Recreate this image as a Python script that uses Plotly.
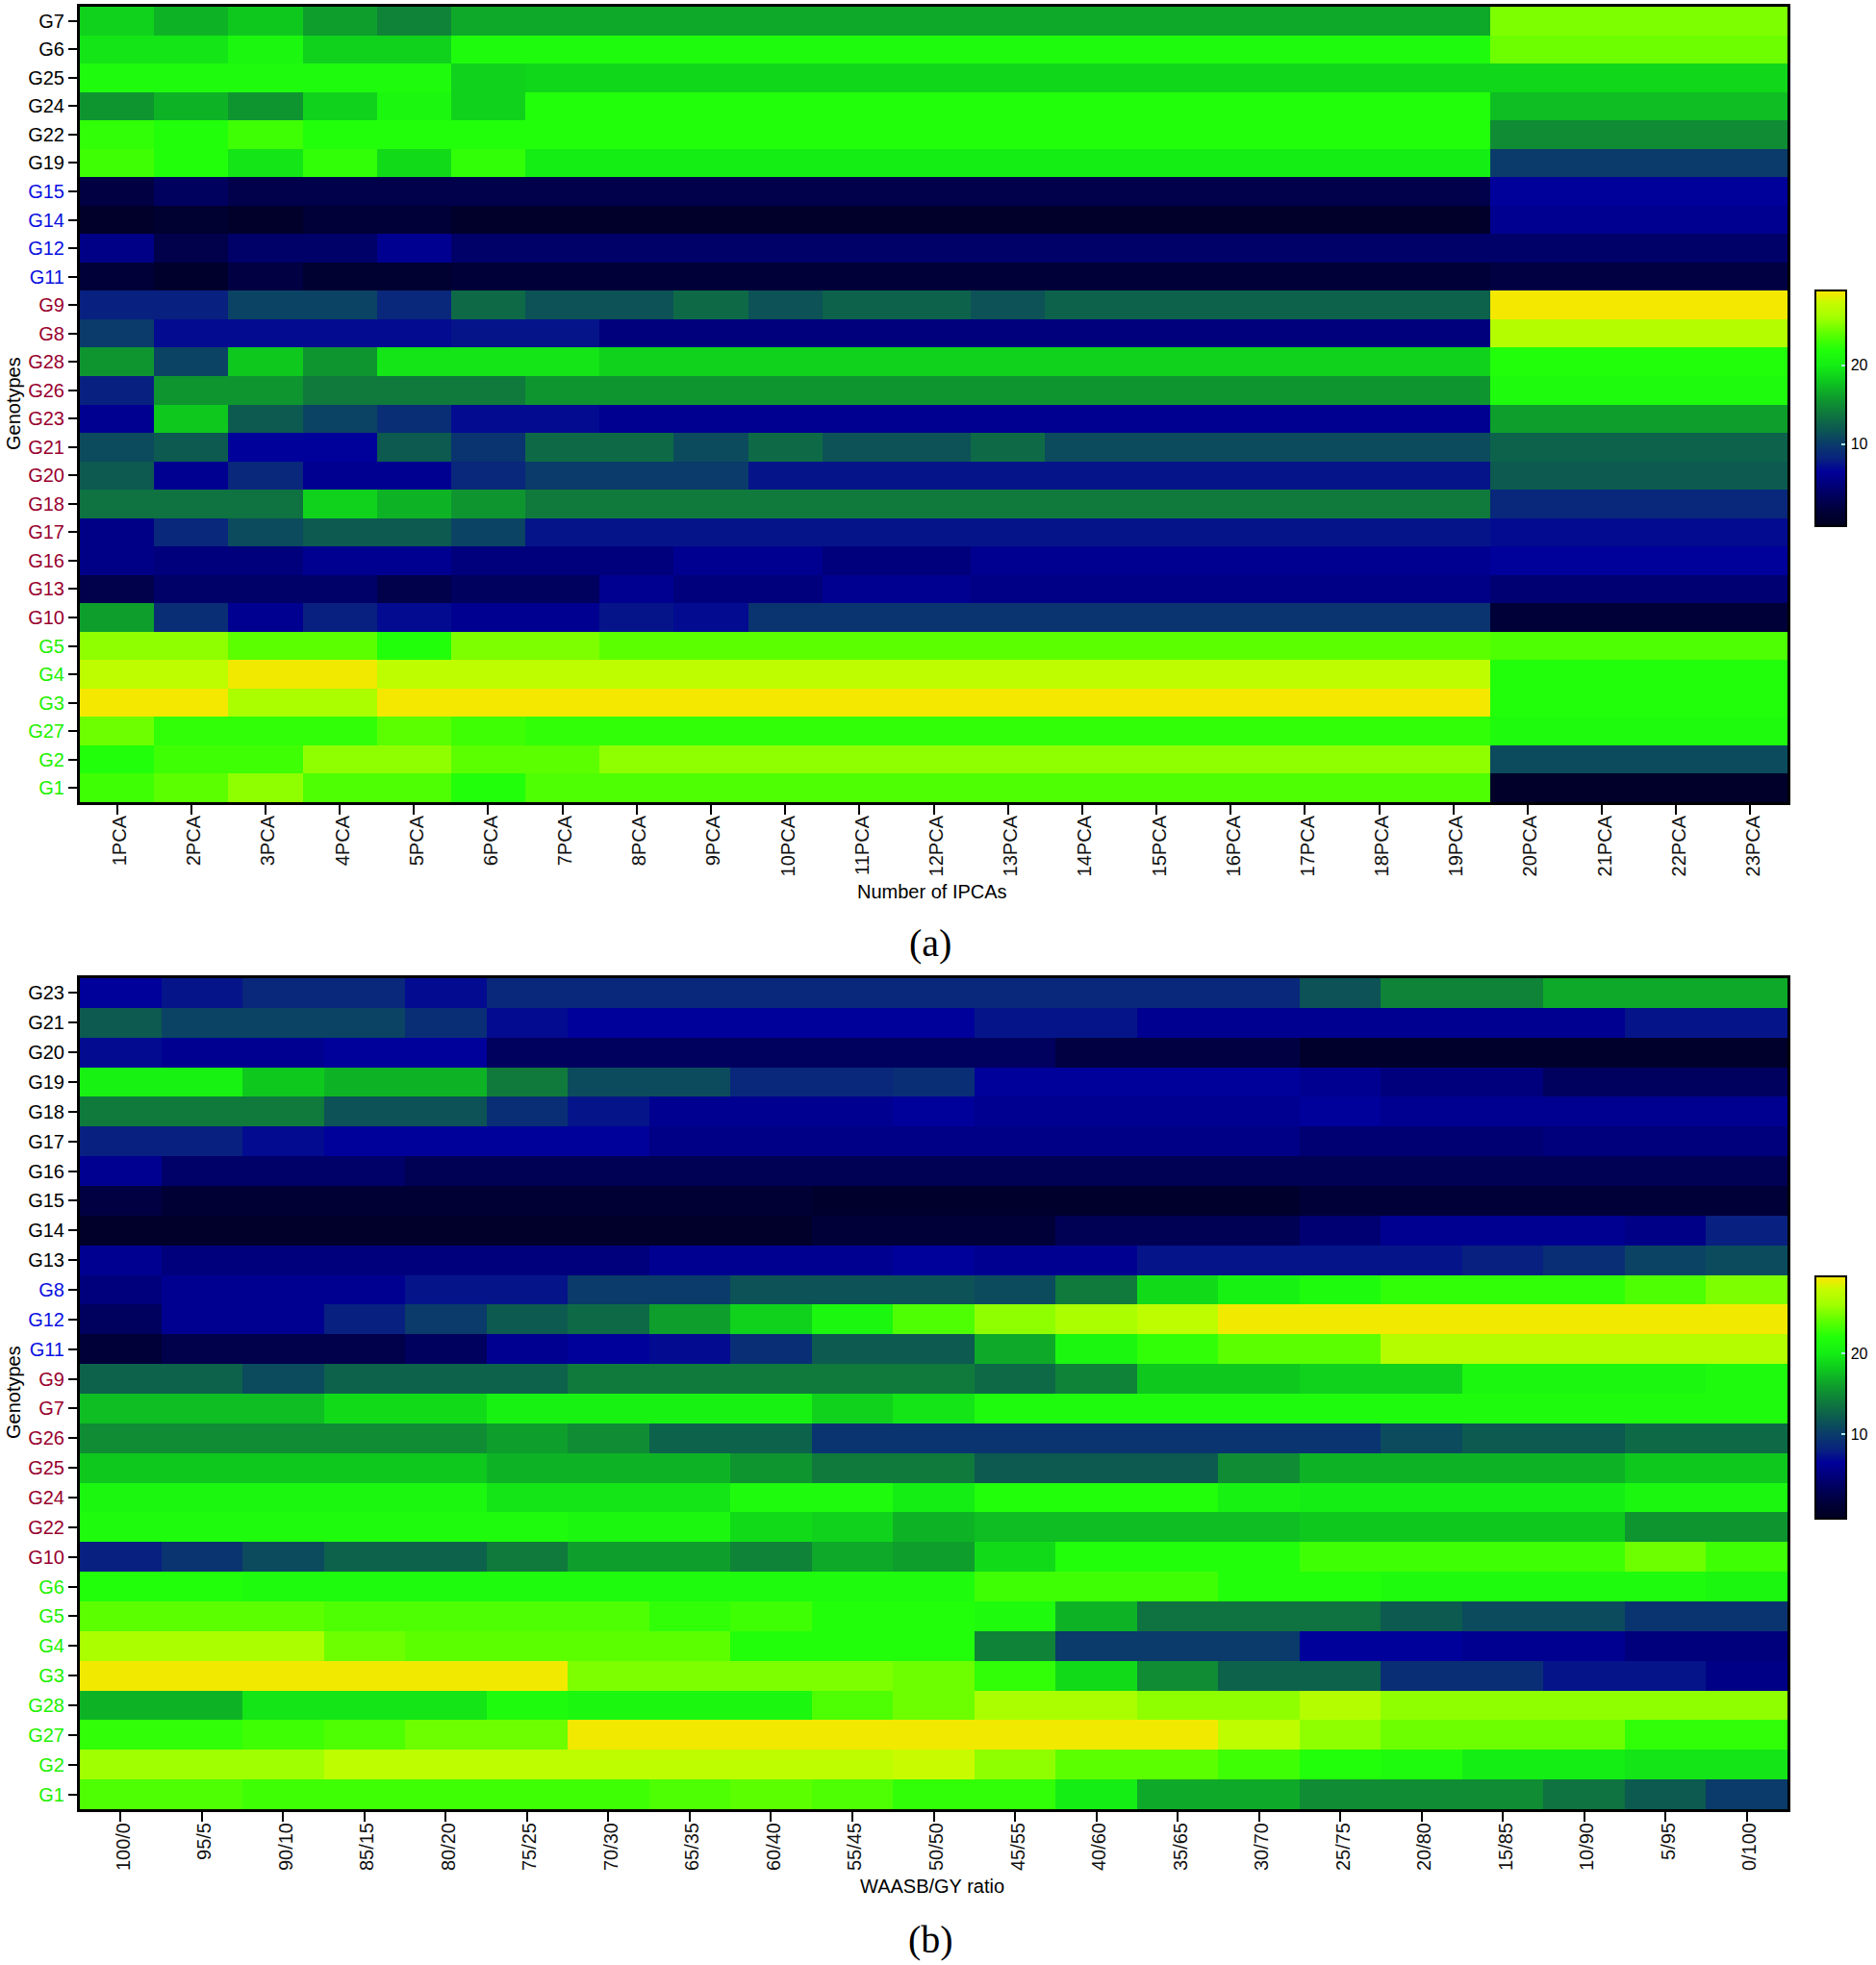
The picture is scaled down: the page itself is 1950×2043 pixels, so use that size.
import plotly.graph_objects as go

# ---------- Panel (a) ----------
ipca_labels = [f"{i}PCA" for i in range(1, 24)]
a_genotypes = ["G7","G6","G25","G24","G22","G19","G15","G14","G12","G11","G9","G8","G28","G26","G23","G21","G20","G18","G17","G16","G13","G10","G5","G4","G3","G27","G2","G1"]
a_label_colors = ["#000000"]*6 + ["#0a10e0"]*4 + ["#98002e"]*12 + ["#22f000"]*6

a_G7  = [18.5,17,18,16,14.5,16.5, 16.5,16.5,16.5,16.5,16.5,16.5,16.5,16.5,16.5,16.5,16.5,16.5,16.5, 25,25,25,25]
a_G6  = [19.5,19.5,21,18.5,18.5,21.5, 21.5,21.5,21.5,21.5,21.5,21.5,21.5,21.5,21.5,21.5,21.5,21.5,21.5, 24.5,24.5,24.5,24.5]
a_G25 = [21.5,21.5,21.5,21.5,21.5,18.5, 18.8,18.8,18.8,18.8,18.8,18.8,18.8,18.8,18.8,18.8,18.8,18.8,18.8, 18.8,18.8,18.8,18.8]
a_G24 = [15.5,17,15.5,18.5,21,18.5, 22,22,22,22,22,22,22,22,22,22,22,22,22, 17.5,17.5,17.5,17.5]
a_G22 = [22.5,22,23,22,22,22, 22,22,22,22,22,22,22,22,22,22,22,22,22, 15,15,15,15]
a_G19 = [23,22,19.5,22.5,19,22.5, 20,20,20,20,20,20,20,20,20,20,20,20,20, 10,10,10,10]
a_G15 = [2,3.5,2.5,2.5,2.5,2.5, 2.5,2.5,2.5,2.5,2.5,2.5,2.5,2.5,2.5,2.5,2.5,2.5,2.5, 6.5,6.5,6.5,6.5]
a_G14 = [0.5,1,0.5,1.5,1.5,0.5, 0.5,0.5,0.5,0.5,0.5,0.5,0.5,0.5,0.5,0.5,0.5,0.5,0.5, 6,6,6,6]
a_G12 = [5.5,2.5,4,4,6,4, 4,4,4,4,4,4,4,4,4,4,4,4,4, 4,4,4,4]
a_G11 = [1.5,0.7,2,1,1,1.5, 1.5,1.5,1.5,1.5,1.5,1.5,1.5,1.5,1.5,1.5,1.5,1.5,1.5, 2,2,2,2]
a_G9  = [8,8,10.5,10.5,8.5,13, 11.5,11.5,13,11.5,12.5,12.5,11.5,12.5,12.5,12.5,12.5,12.5,12.5, 29.5,29.5,29.5,29.5]
a_G8  = [10,7,7,7,7,7.5, 7.5,5,5,5,5,5,5,5,5,5,5,5,5, 27,27,27,27]
a_G28 = [15.5,10.5,18,15.5,19.5,19.5, 19.5,18.5,18.5,18.5,18.5,18.5,18.5,18.5,18.5,18.5,18.5,18.5,18.5, 22,22,22,22]
a_G26 = [8,15.5,15.5,14,14,14, 15.5,15.5,15.5,15.5,15.5,15.5,15.5,15.5,15.5,15.5,15.5,15.5,15.5, 21.5,21.5,21.5,21.5]
a_G23 = [6,18,12,10.5,9,7, 7,6,6,6,6,6,6,6,6,6,6,6,6, 16,16,16,16]
a_G21 = [11,12,6.5,6.5,12,9.5, 13,13,11,13,11.5,11.5,13,11,11,11,11,11,11, 12.5,12.5,12.5,12.5]
a_G20 = [12,6,8.5,6,6,8.5, 10,10,10,7.5,7.5,7.5,7.5,7.5,7.5,7.5,7.5,7.5,7.5, 12,12,12,12]
a_G18 = [13.5,13.5,13.5,18.5,17,15.5, 14,14,14,14,14,14,14,14,14,14,14,14,14, 8.5,8.5,8.5,8.5]
a_G17 = [5.5,8.5,11,12,12,10.5, 7.5,7.5,7.5,7.5,7.5,7.5,7.5,7.5,7.5,7.5,7.5,7.5,7.5, 7,7,7,7]
a_G16 = [5.5,5,5,6,6,5, 5,5,6,6,5,5,6,6,6,6,6,6,6, 6.5,6.5,6.5,6.5]
a_G13 = [2.5,4,4,4,2.5,3.5, 3.5,6,5,5,6,6,5.5,5.5,5.5,5.5,5.5,5.5,5.5, 4.5,4.5,4.5,4.5]
a_G10 = [16,9,6,8,7,6, 6,7.5,7,9.5,9.5,9.5,9.5,9.5,9.5,9.5,9.5,9.5,9.5, 1.5,1.5,1.5,1.5]
a_G5  = [25.5,25.5,24,24,22,25, 25,24,24,24,24,24,24,24,24,24,24,24,24, 23.5,23.5,23.5,23.5]
a_G4  = [27.5,27.5,29.3,29.3,27.5,27.5, 27.5,27.5,27.5,27.5,27.5,27.5,27.5,27.5,27.5,27.5,27.5,27.5,27.5, 22,22,22,22]
a_G3  = [29.5,29.5,26.5,26.5,29.5,29.5, 29.5,29.5,29.5,29.5,29.5,29.5,29.5,29.5,29.5,29.5,29.5,29.5,29.5, 22,22,22,22]
a_G27 = [24.5,22.5,22.5,22.5,24,23, 22.5,22.5,22.5,22.5,22.5,22.5,22.5,22.5,22.5,22.5,22.5,22.5,22.5, 21.5,21.5,21.5,21.5]
a_G2  = [22,23,23,25.5,25.5,24, 24,25.5,25.5,25.5,25.5,25.5,25.5,25.5,25.5,25.5,25.5,25.5,25.5, 11,11,11,11]
a_G1  = [23,24,25.5,23.5,23.5,22, 23.5,23.5,23.5,23.5,23.5,23.5,23.5,23.5,23.5,23.5,23.5,23.5,23.5, 0.5,0.5,0.5,0.5]

a_values = [a_G7,a_G6,a_G25,a_G24,a_G22,a_G19,a_G15,a_G14,a_G12,a_G11,a_G9,a_G8,a_G28,a_G26,a_G23,a_G21,a_G20,a_G18,a_G17,a_G16,a_G13,a_G10,a_G5,a_G4,a_G3,a_G27,a_G2,a_G1]

# ---------- Panel (b) ----------
ratio_labels = ["100/0","95/5","90/10","85/15","80/20","75/25","70/30","65/35","60/40","55/45","50/50","45/55","40/60","35/65","30/70","25/75","20/80","15/85","10/90","5/95","0/100"]
b_genotypes = ["G23","G21","G20","G19","G18","G17","G16","G15","G14","G13","G8","G12","G11","G9","G7","G26","G25","G24","G22","G10","G6","G5","G4","G3","G28","G27","G2","G1"]
b_label_colors = ["#000000"]*10 + ["#0a10e0"]*3 + ["#98002e"]*7 + ["#22f000"]*8

b_G23 = [6.5,7.5,8.5,8.5,7,8.5,8.5,8.5,8.5,8.5,8.5,8.5,8.5,8.5,8.5,11.5,14.5,14.5,16.5,16.5,16.5]
b_G21 = [12,10.5,10.5,10.5,9,7,6.5,6.5,6.5,6.5,6.5,7.5,7.5,6,6,6,6,6,6,7.5,7.5]
b_G20 = [7,6,6,6.5,6.5,3.5,3.5,3.5,3.5,3.5,3.5,3.5,2,2,2,0.7,0.7,0.7,0.7,0.7,0.7]
b_G19 = [20.5,20.5,18,17,17,14,11,11,8.5,8.5,9,6.5,6.5,6.5,6.5,6,5,5,3.5,3.5,3.5]
b_G18 = [14,14,14,11.5,11.5,9,7.5,6,6,6,6.5,6,6,6,6,6.5,6,6,6,6,6]
b_G17 = [8,8,7,6.5,6.5,6.5,6.5,5.5,5.5,5.5,5.5,5.5,5.5,5.5,5.5,4.5,4.5,4.5,5,5,5]
b_G16 = [6,4,4,4,3,3,3,3,3,3,3,3,3,3,3,3,3,3,3,3,3]
b_G15 = [2,1.3,1.3,1.3,1.3,1.3,1.3,1.3,1.3,0.7,0.7,0.7,0.7,0.7,0.7,1.5,1.5,1.5,1.5,1.5,1.5]
b_G14 = [0.5,0.5,0.5,0.5,0.5,0.5,0.5,0.5,0.5,1.5,1.5,1.5,3,3,3,4.5,6,6,6,5.5,8]
b_G13 = [6,5,5,5,5,5,5,6,6,6,6.5,6,6,7.5,7.5,7.5,7.5,8,9,10.5,11]
b_G8  = [5,6,6,6,7.5,7.5,10,10,11.5,11.5,11.5,11,14,19,20.5,21.5,22.5,22.5,22.5,23.5,25]
b_G12 = [3.5,6,6,8,10,12,13,16,18.5,21,23.5,25.5,26.5,27.5,29.3,29.3,29.3,29.3,29.3,29.3,29.3]
b_G11 = [1.5,2.5,2.5,2.5,3.5,6,6.5,7,9,12,12,16.5,21,22.5,24,24,27,27,27,27,27]
b_G9  = [12.5,12.5,11,12.5,12.5,12.5,14,14,14,14,14,13,14.5,18,18,18.5,18.5,21,21,21,21.5]
b_G7  = [17.5,17.5,17.5,19,19,20.5,20.5,20.5,20.5,18.5,19.5,21.5,21.5,21.5,21.5,21.5,21.5,21.5,21.5,21.5,21.5]
b_G26 = [15,15,15,15,15,16,15,12.5,12.5,9.5,9.5,9.5,9.5,9.5,9.5,9.5,11,12,12,13,13]
b_G25 = [18,18,18,18,18,17,17,17,15.5,14,14,12,12,12,15,17,17,17,17,18,18]
b_G24 = [21,21,21,21,21,19.5,19.5,19.5,21.5,21.5,20,22,22,22,20.5,20,20,20,20,21,21]
b_G22 = [21.5,21.5,21.5,21.5,21.5,21.5,21,21,19,18.5,17,17.5,17.5,17.5,17.5,18,18,18,18,15.5,15.5]
b_G10 = [8,9.5,11,12.5,12.5,14,16,16,14.5,16.5,16,19,22,22,22,23,23,23,23,24.5,23]
b_G6  = [22,22,21.5,21.5,21.5,21.5,21.5,21.5,21.5,21.5,21.5,23,23,23,22,22,21.5,21.5,21.5,21.5,21]
b_G5  = [24,24,24,23.5,23.5,23.5,23.5,22.5,23,22,22,21.5,17,13.5,13.5,13.5,12,11,11,9.5,9.5]
b_G4  = [26.5,26.5,26.5,24.5,24,24,24,24,22,22,22,14.5,10,10,10,6.5,6.5,6,6,5,5]
b_G3  = [29.3,29.3,29.3,29.3,29.3,29.3,25,25,25,25,24.5,22.5,19,15,12.5,12.5,9,9,7.5,7.5,5.5]
b_G28 = [17,17,19.5,19.5,19.5,21.5,21,21,21,23.5,24.5,26.5,26.5,25.5,25.5,27,25.5,25.5,25.5,25.5,25.5]
b_G27 = [22.5,22.5,23,23.5,24.5,24.5,29.3,29.3,29.3,29.3,29.3,29.3,29.3,29.3,27.5,25.5,24.5,24.5,24.5,22.5,22.5]
b_G2  = [26,26,26,27.5,27.5,27.5,27.5,27.5,27.5,27.5,28,25.5,24,24,23,22,21.5,20,20,19.5,19.5]
b_G1  = [23.5,23.5,23,23,23,23,23,23.5,24,23.5,22.5,22.5,20,16.5,16.5,15,15,15,13.5,12,10]

b_values = [b_G23,b_G21,b_G20,b_G19,b_G18,b_G17,b_G16,b_G15,b_G14,b_G13,b_G8,b_G12,b_G11,b_G9,b_G7,b_G26,b_G25,b_G24,b_G22,b_G10,b_G6,b_G5,b_G4,b_G3,b_G28,b_G27,b_G2,b_G1]

# ---------- Style ----------
W, H = 1950, 2043
Z_MIN, Z_MAX = -0.4, 29.5
stops = [(-0.4,"#00001f"),(1.5,"#000038"),(3,"#000055"),(5,"#00007c"),(6.5,"#00009a"),(8,"#082080"),
         (10,"#0a3b6a"),(12,"#0c5a50"),(14,"#0f7a3c"),(16,"#0e9e2c"),(18,"#0ec81e"),(20,"#14ee14"),
         (22,"#22ff0a"),(24,"#5cff00"),(26,"#a0ff00"),(28,"#c8fb00"),(29,"#eeea00"),(29.5,"#f4e800")]
colorscale = [[(v - Z_MIN) / (Z_MAX - Z_MIN), c] for v, c in stops]

def colored(labels, colors):
    return [f'<span style="color:{c}">{t}</span>' for t, c in zip(labels, colors)]

def px_x(p): return p / W
def px_y(p): return 1 - p / H

FONT = "Liberation Sans, Arial, sans-serif"
fig = go.Figure()

def cbar(top, bottom):
    return dict(thickness=32, thicknessmode="pixels", len=(bottom - top) / H, lenmode="fraction",
                x=px_x(1887), xanchor="left", xpad=0, ypad=0, y=px_y(bottom), yanchor="bottom",
                outlinecolor="black", outlinewidth=2, tickvals=[10, 20], ticks="inside", ticklen=6,
                tickwidth=2, tickcolor="#a8f0f0", tickprefix="\u00a0",
                tickfont=dict(size=16, color="black", family=FONT))

fig.add_trace(go.Heatmap(z=a_values, x=ipca_labels, y=a_genotypes, zmin=Z_MIN, zmax=Z_MAX, colorscale=colorscale,
                         xaxis="x", yaxis="y", colorbar=cbar(302, 547), hoverongaps=False))
fig.add_trace(go.Heatmap(z=b_values, x=ratio_labels, y=b_genotypes, zmin=Z_MIN, zmax=Z_MAX, colorscale=colorscale,
                         xaxis="x2", yaxis="y2", colorbar=cbar(1327, 1579), hoverongaps=False))

x_common = dict(type="category", showgrid=False, zeroline=False, showline=True, mirror=True, linecolor="black", linewidth=3,
                ticks="outside", ticklen=10, tickwidth=2, tickcolor="black", tickangle=-90,
                ticklabelstandoff=-7, ticklabelshift=3,
                tickfont=dict(size=20, family=FONT, color="#111"))
y_common = dict(type="category", autorange="reversed", showgrid=False, zeroline=False, showline=True, mirror=True, linecolor="black", linewidth=3,
                ticks="outside", ticklen=9, tickwidth=2, tickcolor="black", tickmode="array",
                tickfont=dict(size=20, family=FONT, color="black"))

fig.update_layout(
    width=W, height=H, margin=dict(l=0, r=0, t=0, b=0), paper_bgcolor="white", plot_bgcolor="white",
    xaxis=dict(domain=[px_x(83), px_x(1858)], anchor="y", **x_common),
    yaxis=dict(domain=[px_y(834), px_y(7)], anchor="x", tickvals=a_genotypes, ticktext=colored(a_genotypes, a_label_colors), **y_common),
    xaxis2=dict(domain=[px_x(83), px_x(1858)], anchor="y2", **x_common),
    yaxis2=dict(domain=[px_y(1881), px_y(1017)], anchor="x2", tickvals=b_genotypes, ticktext=colored(b_genotypes, b_label_colors), **y_common),
)

def note(text, x, y, size, family=FONT, angle=0):
    fig.add_annotation(text=text, xref="paper", yref="paper", x=px_x(x), y=px_y(y), showarrow=False,
                       xanchor="center", yanchor="middle", textangle=angle,
                       font=dict(size=size, family=family, color="black"))

note("Number of IPCAs", 969, 927, 20)
note("WAASB/GY ratio", 969, 1961, 20)
note("Genotypes", 14, 420, 20, angle=-90)
note("Genotypes", 14, 1448, 20, angle=-90)
note("(a)", 967, 981, 40, family="Liberation Serif, serif")
note("(b)", 967, 2016, 40, family="Liberation Serif, serif")

fig.write_html("out.html", config={"displayModeBar": False}, post_script="document.body.style.margin='0';")
